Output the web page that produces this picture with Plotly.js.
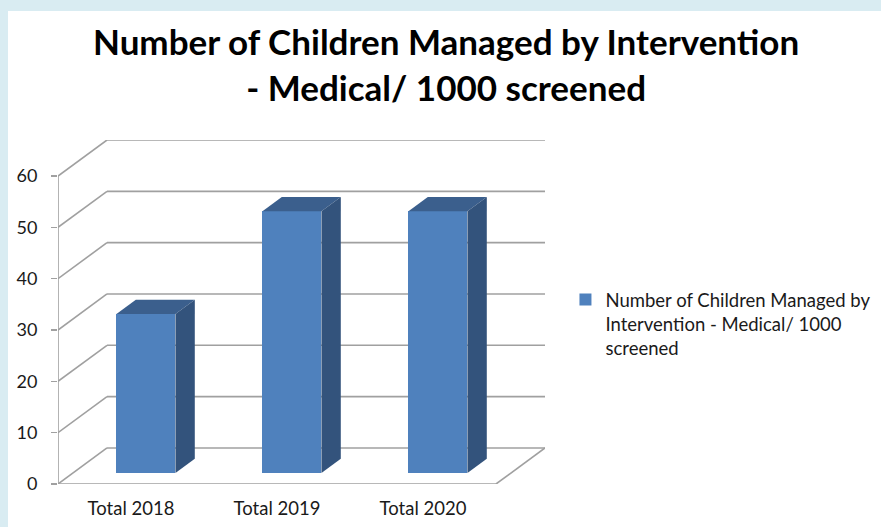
<!DOCTYPE html>
<html>
<head>
<meta charset="utf-8">
<script src="https://cdn.plot.ly/plotly-3.0.1.min.js"></script>
<style>
  html, body { margin:0; padding:0; width:881px; height:527px; background:#d9ecf2; overflow:hidden; }
  #panel { position:absolute; left:8px; top:11px; width:873px; height:516px; background:#ffffff; }
  #chart { position:absolute; left:0; top:0; width:881px; height:527px; }
</style>
</head>
<body>
<div id="panel"></div>
<div id="chart"></div>
<script>
// ---- data ----
const categories = ["Total 2018", "Total 2019", "Total 2020"];
const values = [31, 51, 51];
const seriesName = "Number of Children Managed by<br>Intervention - Medical/ 1000<br>screened";
const yTicks = [0, 10, 20, 30, 40, 50, 60];
const chartTitle = "Number of Children Managed by Intervention<br>- Medical/ 1000 screened";

// ---- 3D projection parameters (oblique) ----
const D = 0.3356;   // depth offset in category units
const E = 7.02;     // depth offset in value units
const f1 = 0.305, f2 = 0.70;  // bar depth (front/back fraction)
const barW = 0.404;
const nCat = categories.length;
const yMax = yTicks[yTicks.length - 1];

const gridColor = "#a0a0a0";
const shapes = [];
function seg(x0, y0, x1, y1) {
  shapes.push({type:"line", xref:"x", yref:"y", x0:x0, y0:y0, x1:x1, y1:y1,
    layer:"below", line:{color:gridColor, width:1.6}});
}
yTicks.forEach(v => {
  seg(0, v, D, v + E);
  seg(D, v + E, nCat + D, v + E);
});
seg(0, 0, 0, yMax);           // front value axis
seg(0, 0, nCat, 0);           // front floor edge
seg(nCat, 0, nCat + D, E);    // right floor edge
for (let i = 0; i <= nCat; i++) {
  shapes.push({type:"line", xref:"x", yref:"y", ysizemode:"pixel", yanchor:0,
    x0:i, x1:i, y0:0, y1:-6, layer:"below", line:{color:gridColor, width:1.6}});
}

const traces = [];
const xFront = categories.map((c, i) => i + 0.5 + f1 * D);
traces.push({
  type:"bar", x:xFront, y:values, base:values.map(() => f1 * E), width:barW,
  name:seriesName, marker:{color:"#4f81bd", line:{width:0}}, hoverinfo:"skip"
});
const dd = (f2 - f1) * D, de = (f2 - f1) * E;
values.forEach((v, i) => {
  const xL = xFront[i] - barW / 2, xR = xFront[i] + barW / 2;
  const top = v + f1 * E;
  traces.push({type:"scatter", mode:"lines", fill:"toself", fillcolor:"#3b5f8d",
    line:{width:0}, showlegend:false, hoverinfo:"skip",
    x:[xL, xR, xR + dd, xL + dd, xL], y:[top, top, top + de, top + de, top]});
  traces.push({type:"scatter", mode:"lines", fill:"toself", fillcolor:"#33537c",
    line:{width:0}, showlegend:false, hoverinfo:"skip",
    x:[xR, xR, xR + dd, xR + dd, xR], y:[f1 * E, top, top + de, f1 * E + de, f1 * E]});
});

const layout = {
  width:881, height:527,
  paper_bgcolor:"rgba(0,0,0,0)", plot_bgcolor:"rgba(0,0,0,0)",
  margin:{l:58, r:336, t:140, b:43, autoexpand:false},
  font:{family:"Lato, 'Liberation Sans', sans-serif", color:"#1a1a1a"},
  annotations:[{text:chartTitle, xref:"paper", yref:"paper", x:0.797, y:1.222,
    xanchor:"center", yanchor:"middle", showarrow:false, align:"center",
    font:{family:"Lato, sans-serif", size:35, color:"#000000", weight:"bold"}}],
  showlegend:true,
  legend:{x:1.042, xanchor:"left", y:0.59, yanchor:"top", valign:"top",
    font:{size:18.5, color:"#1a1a1a"}, bgcolor:"rgba(0,0,0,0)"},
  xaxis:{range:[0, nCat + D], showgrid:false, zeroline:false, showline:false,
    tickmode:"array", tickvals:categories.map((c, i) => i + 0.5), ticktext:categories,
    ticks:"outside", ticklen:8, tickcolor:"rgba(0,0,0,0)", tickfont:{size:18.5, color:"#1a1a1a"},
    fixedrange:true},
  yaxis:{range:[0, yMax + E], showgrid:false, zeroline:false, showline:false,
    tickmode:"array", tickvals:yTicks, ticks:"outside", ticklen:6, tickwidth:1.6,
    ticklabelstandoff:10,
    tickcolor:gridColor, tickfont:{size:18, color:"#1a1a1a"}, fixedrange:true},
  bargap:0, shapes:shapes
};
Plotly.newPlot("chart", traces, layout, {displayModeBar:false, staticPlot:true});
</script>
</body>
</html>
